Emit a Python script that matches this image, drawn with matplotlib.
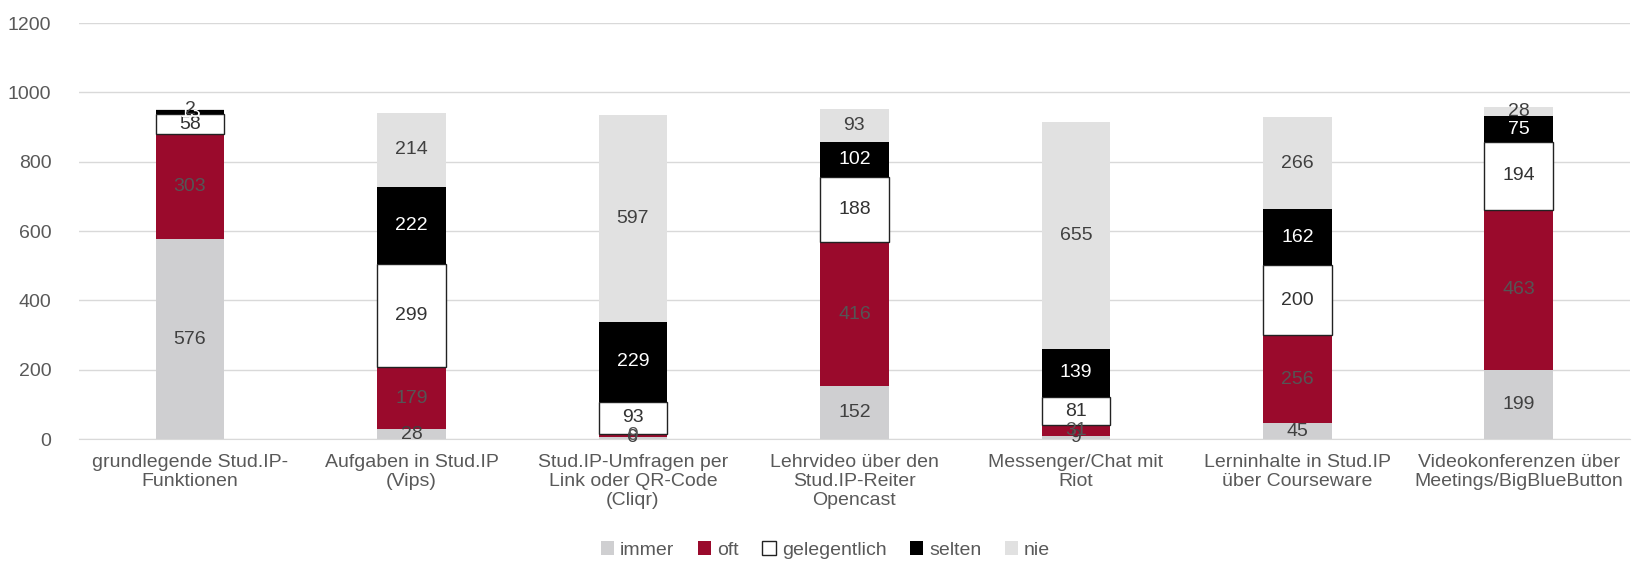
import matplotlib.pyplot as plt
import numpy as np

plt.rcParams['font.family'] = ['Liberation Sans', 'DejaVu Sans']

categories = ['grundlegende Stud.IP-\nFunktionen', 'Aufgaben in Stud.IP\n(Vips)',
              'Stud.IP-Umfragen per\nLink oder QR-Code\n(Cliqr)',
              'Lehrvideo über den\nStud.IP-Reiter\nOpencast', 'Messenger/Chat mit\nRiot',
              'Lerninhalte in Stud.IP\nüber Courseware',
              'Videokonferenzen über\nMeetings/BigBlueButton']
immer = [576, 28, 6, 152, 9, 45, 199]
oft = [303, 179, 9, 416, 31, 256, 463]
gelegentlich = [58, 299, 93, 188, 81, 200, 194]
selten = [13, 222, 229, 102, 139, 162, 75]
nie = [2, 214, 597, 93, 655, 266, 28]

series = [
    ('immer', immer, '#cfcfd1', 'none', '#404040'),
    ('oft', oft, '#9a0a2c', 'none', '#555555'),
    ('gelegentlich', gelegentlich, 'white', '#222222', '#333333'),
    ('selten', selten, 'black', 'none', 'white'),
    ('nie', nie, '#e1e1e1', 'none', '#404040'),
]

fig = plt.figure(figsize=(16.51, 5.65), dpi=100)
ax = fig.add_axes([0.048, 0.223, 0.939, 0.736])

x = np.arange(len(categories))
bottom = np.zeros(len(categories))
for name, vals, color, edge, tcolor in series:
    vals = np.array(vals, dtype=float)
    ax.bar(x, vals, width=0.31, bottom=bottom, color=color, edgecolor=edge,
           linewidth=1.0, label=name, zorder=3)
    for xi, b, v in zip(x, bottom, vals):
        ax.text(xi, b + v / 2, f'{int(v)}', ha='center', va='center',
                fontsize=14, color=tcolor, zorder=4)
    bottom += vals

ax.set_xlim(-0.5, len(categories) - 0.5)
ax.set_ylim(0, 1200)
ax.set_yticks(range(0, 1201, 200))
ax.yaxis.grid(True, color='#d9d9d9', linewidth=1, zorder=0)
ax.set_axisbelow(True)
for s in ['top', 'right', 'left']:
    ax.spines[s].set_visible(False)
ax.spines['bottom'].set_color('#d9d9d9')
ax.tick_params(axis='both', length=0, labelsize=14, labelcolor='#595959')
ax.tick_params(axis='y', pad=20)
ax.tick_params(axis='x', pad=11)
ax.set_xticks(x)
ax.set_xticklabels(categories, linespacing=1.15)

leg = fig.legend(loc='center', bbox_to_anchor=(0.5, 0.027), ncol=5, frameon=False,
                 fontsize=14, handlelength=0.7, handleheight=0.7, handletextpad=0.3,
                 columnspacing=1.2, labelcolor='#595959')

fig.savefig('out.png', dpi=100)
